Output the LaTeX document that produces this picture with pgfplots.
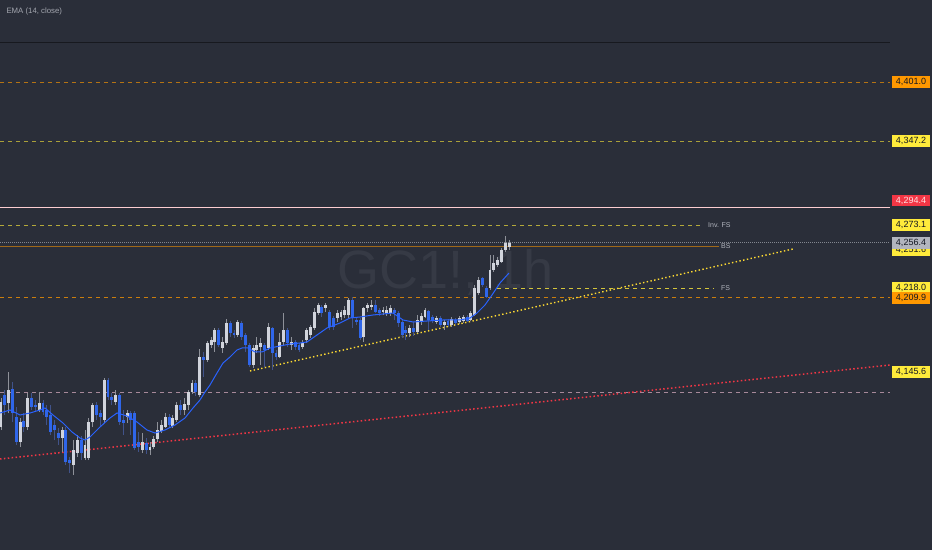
\documentclass[border=0pt]{standalone}
\usepackage{fontspec}
\setmainfont{Liberation Sans}
\usepackage{pgfplots}
\usepackage{pgfplotstable}
\pgfplotsset{compat=1.18}
\definecolor{bg}{HTML}{2A2E39}
\definecolor{wm}{HTML}{363A45}
\definecolor{upc}{HTML}{D1D4DC}
\definecolor{dnc}{HTML}{2F66EA}
\definecolor{upw}{HTML}{8E9199}
\definecolor{dnw}{HTML}{41538A}
\definecolor{emac}{HTML}{2962FF}
\definecolor{tvorange}{HTML}{FF9800}
\definecolor{tvyellow}{HTML}{FFEB3B}
\definecolor{tvred}{HTML}{F23645}
\definecolor{tvgray}{HTML}{B2B5BE}
\definecolor{txtdark}{HTML}{131722}
\definecolor{lblgray}{HTML}{A3A6AF}
\definecolor{pinkline}{HTML}{A7899A}
\definecolor{topline}{HTML}{17191F}

\pgfplotstableread{
i o h l c
0 4090.7 4116.8 4088.0 4113.2
2 4112.3 4140.2 4103.3 4124.0
5 4077.2 4098.8 4072.7 4095.2
7 4090.7 4121.3 4088.0 4116.8
10 4106.0 4122.2 4104.2 4112.3
16 4080.8 4090.7 4068.2 4088.0
19 4056.5 4079.0 4047.5 4070.0
20 4067.3 4083.5 4063.7 4079.0
22 4062.8 4088.0 4061.0 4074.5
23 4062.8 4098.8 4061.0 4095.2
24 4095.2 4112.3 4090.7 4110.5
27 4097.0 4134.8 4094.3 4133.0
30 4113.2 4124.0 4110.5 4119.5
33 4099.7 4106.0 4094.3 4103.3
37 4070.0 4085.3 4067.3 4077.2
39 4070.0 4077.2 4065.5 4072.7
40 4072.7 4082.6 4070.9 4079.9
41 4079.9 4095.2 4077.2 4088.0
42 4087.1 4097.0 4085.3 4092.5
43 4090.7 4103.3 4089.8 4099.7
45 4091.6 4101.5 4089.8 4098.8
46 4097.0 4113.2 4095.2 4110.5
48 4106.0 4116.8 4101.5 4111.4
49 4110.5 4124.0 4106.0 4122.2
50 4122.2 4133.0 4120.4 4130.3
52 4119.5 4160.9 4117.7 4153.7
54 4151.0 4168.1 4149.2 4166.3
55 4164.5 4171.7 4161.8 4169.0
56 4167.2 4179.8 4158.2 4178.0
58 4161.8 4171.7 4157.3 4167.2
59 4166.3 4187.9 4164.5 4184.3
62 4173.5 4187.0 4171.7 4185.2
66 4146.5 4164.5 4143.8 4161.8
67 4160.0 4171.7 4157.3 4164.5
68 4162.7 4170.8 4146.5 4166.3
70 4161.8 4184.3 4160.0 4180.7
73 4153.7 4175.3 4152.8 4167.2
74 4167.2 4193.3 4164.5 4178.0
76 4164.5 4171.7 4160.0 4167.2
79 4162.7 4169.0 4160.9 4166.3
80 4169.0 4179.8 4166.3 4178.0
81 4173.5 4182.5 4170.8 4180.7
82 4179.8 4197.8 4178.0 4194.2
83 4193.3 4202.3 4191.5 4200.5
85 4197.8 4202.3 4194.2 4200.5
88 4188.8 4196.0 4185.2 4193.3
89 4189.7 4196.0 4187.0 4194.2
90 4191.5 4199.6 4188.8 4196.0
91 4191.5 4206.8 4188.8 4205.0
95 4171.7 4198.7 4167.2 4197.8
96 4197.8 4202.3 4194.2 4200.5
97 4198.7 4205.0 4196.0 4200.5
100 4194.2 4198.7 4191.5 4196.0
101 4193.3 4199.6 4190.6 4196.0
102 4193.3 4200.5 4190.6 4197.8
107 4175.3 4182.5 4171.7 4179.8
109 4176.2 4191.5 4175.3 4187.0
110 4185.2 4193.3 4182.5 4190.6
111 4189.7 4197.8 4188.8 4196.0
114 4185.2 4190.6 4183.4 4188.8
116 4182.5 4187.0 4178.0 4185.2
118 4182.5 4189.7 4180.7 4187.9
120 4185.2 4190.6 4183.4 4188.8
121 4186.1 4191.5 4184.3 4189.7
123 4187.0 4195.1 4186.1 4193.3
124 4191.5 4218.5 4190.6 4215.8
125 4211.3 4225.7 4209.5 4223.0
128 4215.8 4245.5 4214.0 4232.0
129 4232.0 4245.5 4230.2 4238.3
130 4236.5 4243.7 4234.7 4241.0
131 4239.2 4251.8 4238.3 4250.0
132 4250.0 4262.6 4248.2 4256.3
133 4252.7 4259.0 4250.0 4256.4
}\uptab

\pgfplotstableread{
i o h l c
1 4119.5 4124.0 4101.5 4110.5
3 4124.9 4131.2 4095.2 4103.3
4 4099.7 4108.7 4074.5 4077.2
6 4096.1 4103.3 4086.2 4090.7
8 4116.8 4121.3 4106.0 4108.7
9 4110.5 4115.0 4104.2 4108.7
11 4112.3 4115.0 4101.5 4104.2
12 4106.0 4110.5 4092.5 4099.7
13 4101.5 4110.5 4083.5 4086.2
14 4092.5 4097.0 4079.0 4088.0
15 4085.3 4089.8 4074.5 4080.8
17 4088.0 4090.7 4056.5 4059.2
18 4061.0 4063.7 4049.3 4058.3
21 4079.0 4082.6 4061.0 4067.3
25 4110.5 4113.2 4097.0 4101.5
26 4103.3 4106.0 4090.7 4099.7
28 4133.0 4134.8 4115.0 4117.7
29 4117.7 4121.3 4110.5 4115.0
31 4119.5 4121.3 4092.5 4095.2
32 4097.0 4106.0 4083.5 4094.3
34 4103.3 4105.1 4083.5 4097.0
35 4103.3 4105.1 4070.0 4071.8
36 4077.2 4086.2 4068.2 4072.7
38 4076.3 4080.8 4066.4 4070.0
44 4099.7 4102.4 4089.8 4092.5
47 4110.5 4115.0 4101.5 4106.0
51 4130.3 4133.0 4118.6 4122.2
53 4153.7 4158.2 4135.7 4151.0
57 4178.0 4179.8 4162.7 4164.5
60 4184.3 4186.1 4171.7 4175.3
61 4175.3 4178.0 4170.8 4173.5
63 4184.3 4186.1 4169.0 4171.7
64 4173.5 4175.3 4158.2 4164.5
65 4164.5 4166.3 4144.7 4146.5
69 4164.5 4166.3 4144.7 4160.0
71 4179.8 4180.7 4142.0 4157.3
72 4157.3 4160.0 4151.0 4153.7
75 4178.0 4179.8 4162.7 4166.3
77 4167.2 4169.0 4160.0 4162.7
78 4164.5 4166.3 4158.2 4160.0
84 4198.7 4200.5 4189.7 4193.3
86 4194.2 4196.0 4178.0 4180.7
87 4188.8 4190.6 4178.0 4180.7
92 4205.0 4207.7 4179.8 4188.8
93 4187.0 4188.8 4182.5 4185.2
94 4187.0 4188.8 4169.0 4170.8
98 4200.5 4205.0 4193.3 4194.2
99 4196.0 4197.8 4190.6 4193.3
103 4196.0 4197.8 4187.0 4193.3
104 4193.3 4195.1 4180.7 4184.3
105 4185.2 4187.0 4170.8 4173.5
106 4178.0 4181.6 4169.0 4175.3
108 4179.8 4185.2 4172.6 4176.2
112 4195.1 4196.0 4178.0 4187.0
113 4189.7 4191.5 4184.3 4186.1
115 4188.8 4190.6 4180.7 4182.5
117 4186.1 4187.9 4180.7 4182.5
119 4187.0 4188.8 4182.5 4184.3
122 4189.7 4191.5 4185.2 4186.1
126 4224.8 4225.7 4216.7 4218.5
127 4215.8 4217.6 4206.8 4207.7
}\dntab

\pgfplotstableread{
x y
-0.26 4103.3
2.36 4106.0
4.97 4101.5
7.59 4103.3
10.21 4106.0
11.52 4107.8
13.61 4101.5
16.23 4094.3
18.59 4086.2
20.68 4080.8
21.99 4079.0
23.30 4081.7
25.92 4090.7
28.53 4098.8
30.37 4103.3
32.98 4100.6
35.60 4095.2
38.22 4088.0
40.31 4085.3
42.93 4088.0
45.55 4092.5
48.17 4098.8
50.26 4107.8
52.09 4115.0
53.40 4122.2
54.71 4128.5
56.54 4139.3
58.12 4148.3
59.95 4153.7
61.78 4160.0
63.09 4161.8
64.66 4161.8
66.49 4158.2
68.32 4158.2
70.42 4161.8
73.04 4163.6
75.65 4165.4
78.27 4166.3
80.10 4167.2
82.72 4173.5
85.34 4179.8
88.74 4184.3
91.36 4188.8
93.98 4189.7
97.38 4191.5
102.62 4193.3
105.24 4187.0
107.85 4185.2
111.52 4186.1
115.71 4187.0
120.16 4187.0
122.77 4188.8
124.61 4193.3
126.70 4200.5
128.53 4209.5
130.63 4220.3
132.98 4229.3
}\ematab

\begin{document}
\begin{tikzpicture}
\path[use as bounding box] (0pt,0pt) rectangle (932pt,550pt);
\fill[bg] (0pt,0pt) rectangle (932pt,550pt);
\node[text=wm, font=\fontsize{54}{54}\selectfont, anchor=base] at (446pt,262pt) {GC1!, 1h};
\begin{axis}[at={(0pt,0pt)}, anchor=south west, scale only axis,
  width=890pt, height=550pt, xmin=-0.262, xmax=232.72, ymin=3980, ymax=4475,
  hide axis, clip mode=individual]
% horizontal levels
\addplot[color=topline, line width=1pt] coordinates {(-0.262,4436.3) (232.72,4436.3)};
\addplot[color=tvorange!65!bg, line width=0.8pt, dash pattern=on 4pt off 4pt] coordinates {(-0.262,4401.2) (232.72,4401.2)};
\addplot[color=tvyellow!60!bg, line width=0.8pt, dash pattern=on 4pt off 4pt] coordinates {(-0.262,4348.1) (232.72,4348.1)};
\addplot[color=white!75!tvred, line width=0.8pt] coordinates {(-0.262,4288.7) (232.72,4288.7)};
\addplot[color=tvyellow!65!bg, line width=0.8pt, dash pattern=on 4pt off 4pt] coordinates {(-0.262,4272.5) (183.77,4272.5)};
\addplot[color=tvgray!65!bg, line width=0.8pt, dash pattern=on 1pt off 1pt] coordinates {(-0.262,4256.4) (232.72,4256.4)};
\addplot[color=tvorange!55!bg, line width=0.5pt] coordinates {(-0.262,4253.6) (187.96,4253.6)};
\addplot[color=tvyellow!80!bg, line width=0.8pt, dash pattern=on 4pt off 4pt] coordinates {(129.84,4215.8) (186.39,4215.8)};
\addplot[color=tvorange!75!bg, line width=0.8pt, dash pattern=on 4pt off 4pt] coordinates {(-0.262,4207.7) (232.72,4207.7)};
\addplot[color=pinkline, line width=0.8pt, dash pattern=on 4pt off 4pt] coordinates {(-0.262,4122.2) (232.72,4122.2)};
% trend lines
\addplot[color=tvred, line width=1.5pt, dash pattern=on 1.5pt off 2.4pt] coordinates {(-0.262,4061.9) (232.72,4146.5)};
\addplot[color=tvyellow!85!orange, line width=1.4pt, dash pattern=on 1.4pt off 2.4pt] coordinates {(65.18,4141.1) (207.33,4250.9)};
% wicks
\addplot[color=upw, line width=0.9pt, quiver={u=0, v=\thisrow{h}-\thisrow{l}}] table[x=i, y=l] {\uptab};
\addplot[color=dnw, line width=0.9pt, quiver={u=0, v=\thisrow{h}-\thisrow{l}}] table[x=i, y=l] {\dntab};
% bodies
\addplot[color=upc, line width=2.9pt, quiver={u=0, v=\thisrow{c}-\thisrow{o}}] table[x=i, y=o] {\uptab};
\addplot[color=dnc, line width=2.9pt, quiver={u=0, v=\thisrow{c}-\thisrow{o}}] table[x=i, y=o] {\dntab};
% EMA
\addplot[color=emac, line width=1pt] table[x=x, y=y] {\ematab};
\end{axis}
% texts
\node[anchor=west, text=lblgray, font=\fontsize{7.8}{8}\selectfont] at (3pt,539pt) {EMA (14, close)};
\node[anchor=west, text=tvgray, font=\fontsize{7}{8}\selectfont, inner sep=0pt] at (708pt,325pt) {Inv. FS};
\node[anchor=west, text=tvgray, font=\fontsize{7}{8}\selectfont, inner sep=0pt] at (721pt,304pt) {BS};
\node[anchor=west, text=tvgray, font=\fontsize{7}{8}\selectfont, inner sep=0pt] at (721pt,262pt) {FS};
% price labels
\tikzset{pl/.style={minimum width=38pt, minimum height=11.5pt, inner sep=0pt, font=\fontsize{9}{9}\selectfont, text=txtdark}}
\node[pl, fill=tvorange] at (911pt,468pt) {4,401.0};
\node[pl, fill=tvyellow] at (911pt,409pt) {4,347.2};
\node[pl, fill=tvred, text=white!85!tvred] at (911pt,349.5pt) {4,294.4};
\node[pl, fill=tvyellow] at (911pt,325pt) {4,273.1};
\node[pl, fill=tvyellow] at (911pt,300pt) {4,251.6};
\node[pl, fill=tvgray] at (911pt,307pt) {4,256.4};
\node[pl, fill=tvyellow] at (911pt,262pt) {4,218.0};
\node[pl, fill=tvorange] at (911pt,252pt) {4,209.9};
\node[pl, fill=tvyellow] at (911pt,178pt) {4,145.6};
\end{tikzpicture}
\end{document}
